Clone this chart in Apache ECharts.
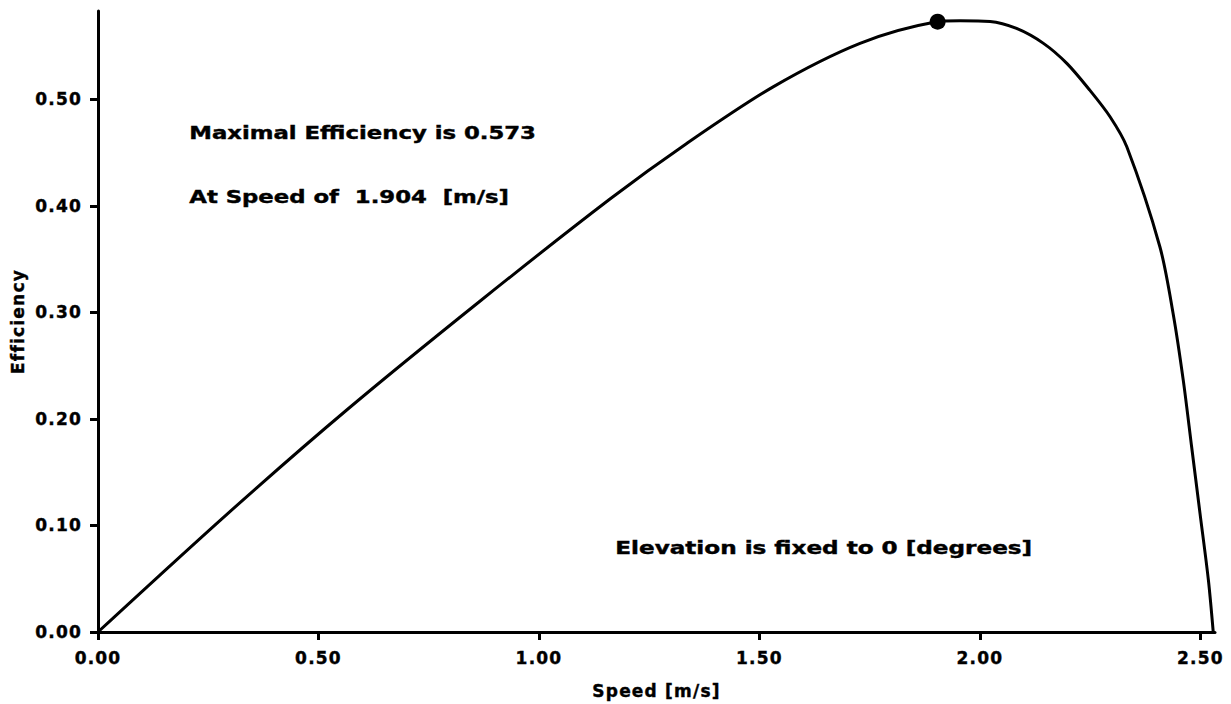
<!DOCTYPE html>
<html>
<head>
<meta charset="utf-8">
<script src="https://cdn.jsdelivr.net/npm/echarts@6/dist/echarts.min.js"></script>
<style>
html,body{margin:0;padding:0;background:#fff;}
#chart{width:1231px;height:704px;}
#chart text{letter-spacing:1.2px;}
</style>
</head>
<body>
<div id="chart"></div>
<script>
// Speed [m/s] and efficiency values
var speed = [0, 0.2948, 0.564, 0.866, 1.161, 1.335, 1.531, 1.728, 1.899, 1.955, 2.023, 2.083, 2.144, 2.197, 2.249, 2.295, 2.333, 2.408, 2.438, 2.461, 2.480, 2.499, 2.518, 2.529];
var efficiency = [0, 0.1114, 0.2084, 0.3105, 0.4065, 0.4587, 0.5118, 0.5526, 0.5726, 0.5738, 0.5732, 0.5666, 0.5526, 0.5338, 0.5087, 0.4837, 0.4555, 0.3617, 0.2991, 0.2365, 0.1739, 0.1114, 0.0488, 0];
var maxPoint = [1.904, 0.573];
var xTicks = [0, 0.5, 1.0, 1.5, 2.0, 2.5];
var yTicks = [0, 0.1, 0.2, 0.3, 0.4, 0.5];
var annotations = ["Maximal Efficiency is 0.573", "At Speed of  1.904  [m/s]", "Elevation is fixed to 0 [degrees]"];

var FONT = 'DejaVu Sans';
var chart = echarts.init(document.getElementById('chart'), null, { renderer: 'svg' });
var lineData = speed.map(function (s, i) { return [s, efficiency[i]]; });
var axisCommon = {
  axisLine: { show: true, lineStyle: { color: '#000', width: 3 } },
  splitLine: { show: false },
  nameTextStyle: { color: '#000', fontFamily: FONT, fontWeight: 'bold', fontSize: 17, textBorderColor: '#000', textBorderWidth: 0.4 }
};
function tickOpt(vals) {
  return { show: true, length: 8, customValues: vals, lineStyle: { color: '#000', width: 3 } };
}
function labelOpt(vals, margin) {
  return { customValues: vals, color: '#000', fontFamily: FONT, fontWeight: 'bold', fontSize: 17, margin: margin,
    textBorderColor: '#000', textBorderWidth: 0.4,
    formatter: function (v) { return v.toFixed(2); } };
}
function annot(text, left, top, sx) {
  return { type: 'text', left: left, top: top, scaleX: sx,
    style: { text: text, fill: '#000', fontFamily: FONT, fontWeight: 'bold', fontSize: 17, stroke: '#000', lineWidth: 0.4 } };
}
chart.setOption({
  animation: false,
  backgroundColor: '#fff',
  grid: { left: 98, right: 16, top: 11, bottom: 72, containLabel: false, outerBoundsMode: 'none' },
  xAxis: Object.assign({}, axisCommon, {
    type: 'value', min: 0, max: 2.533,
    name: 'Speed [m/s]', nameLocation: 'middle', nameGap: 50,
    axisTick: tickOpt(xTicks), axisLabel: labelOpt(xTicks, 17)
  }),
  yAxis: Object.assign({}, axisCommon, {
    type: 'value', min: 0, max: 0.583,
    name: 'Efficiency', nameLocation: 'middle', nameGap: 72, nameRotate: 90,
    axisTick: tickOpt(yTicks), axisLabel: labelOpt(yTicks, 16)
  }),
  series: [
    { type: 'line', data: lineData, smooth: 0.3, showSymbol: false, lineStyle: { color: '#000', width: 3 }, z: 3 },
    { type: 'scatter', data: [maxPoint], symbolSize: 16, itemStyle: { color: '#000', opacity: 1 }, z: 4 }
  ],
  graphic: [
    annot(annotations[0], 189, 124, 1.34),
    annot(annotations[1], 189, 188, 1.34),
    annot(annotations[2], 615, 539, 1.36)
  ]
});
function unspaceAnnotations() {
  var texts = document.querySelectorAll('#chart text');
  for (var i = 0; i < texts.length; i++) {
    if (annotations.indexOf(texts[i].textContent) >= 0) {
      texts[i].style.letterSpacing = '0px';
    }
  }
}
chart.on('finished', unspaceAnnotations);
unspaceAnnotations();
</script>
</body>
</html>
